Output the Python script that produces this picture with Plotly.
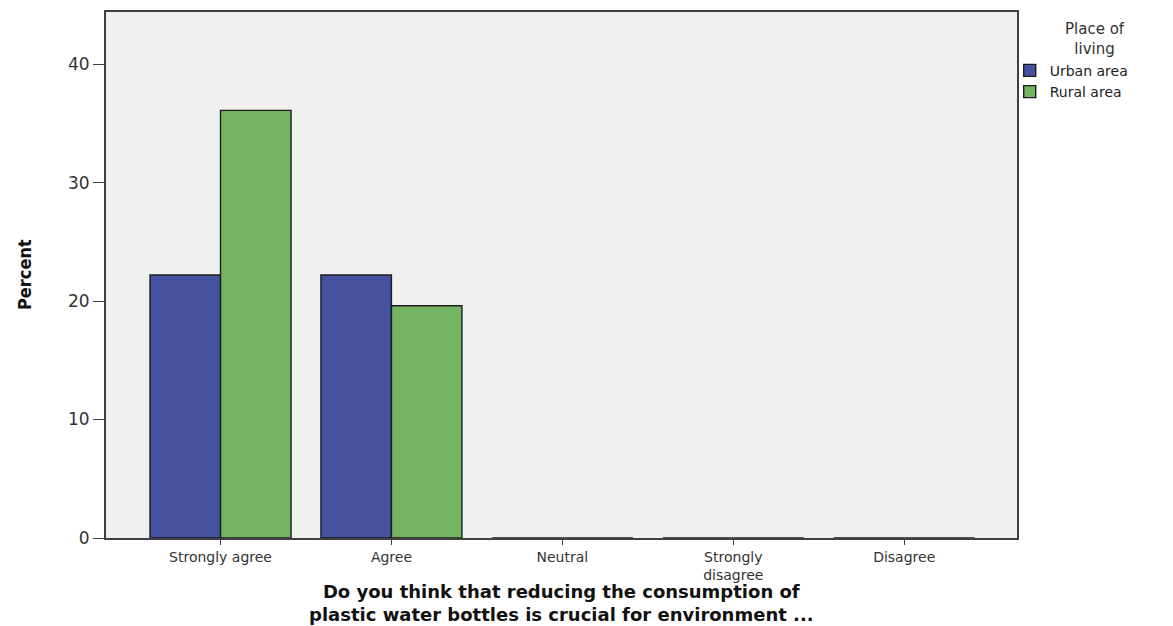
import plotly.graph_objects as go

categories = ["Strongly agree", "Agree", "Neutral", "Strongly<br>disagree", "Disagree"]
urban = [22.2, 22.2, 0, 0, 0]
rural = [36.1, 19.6, 0, 0, 0]
y_ticks = [0, 10, 20, 30, 40]
legend_title = "Place of<br>living"
x_title = "<b>Do you think that reducing the consumption of<br>plastic water bottles is crucial for environment ...</b>"
y_title = "<b>Percent</b>"

FONT = "DejaVu Sans, Verdana, Arial, sans-serif"

fig = go.Figure()
fig.add_trace(go.Bar(name="Urban area", x=categories, y=urban,
                     marker=dict(color="#4552A0", line=dict(color="#1c1c1c", width=1.4))))
fig.add_trace(go.Bar(name="Rural area", x=categories, y=rural,
                     marker=dict(color="#72B462", line=dict(color="#1c1c1c", width=1.4))))

fig.update_layout(
    width=1165, height=618,
    margin=dict(l=98, r=156, t=4, b=88, autoexpand=False),
    paper_bgcolor="white", plot_bgcolor="#F0F0F0",
    barmode="group", bargap=0.175, bargroupgap=0,
    font=dict(family=FONT, color="#222"),
    legend=dict(
        x=0.992, xanchor="left", y=0.9186, yanchor="top",
        font=dict(size=14, family=FONT, color="#222"),
        itemwidth=30, tracegroupgap=0, bgcolor="rgba(0,0,0,0)",
    ),
    xaxis=dict(
        range=[-0.67, 4.66], showgrid=False, automargin=False,
        showline=True, linecolor="#404040", linewidth=1.8, mirror=True,
        ticks="outside", ticklen=5, tickcolor="#404040",
        tickfont=dict(size=14, family=FONT, color="#333"),
    ),
    yaxis=dict(
        range=[0, 44.4], tickvals=y_ticks, showgrid=False, zeroline=False, automargin=False,
        showline=True, linecolor="#404040", linewidth=1.8, mirror=True,
        ticks="outside", ticklen=11, tickcolor="#404040",
        tickfont=dict(size=17, family=FONT, color="#333"),
    ),
    annotations=[
        dict(text=legend_title, xref="paper", yref="paper", x=1.0856, y=0.9496,
             xanchor="center", yanchor="middle", showarrow=False, align="center",
             font=dict(size=15, family=FONT, color="#333")),
        dict(text=x_title, xref="paper", yref="paper", x=0.5, y=-0.1695,
             xanchor="center", yanchor="bottom", showarrow=False, align="center",
             font=dict(size=18, family=FONT, color="#111")),
        dict(text=y_title, xref="paper", yref="paper", x=-0.09, y=0.5,
             xanchor="center", yanchor="middle", showarrow=False, textangle=-90,
             font=dict(size=18, family="Liberation Sans Narrow, DejaVu Sans Condensed, Liberation Sans, Arial, sans-serif",
                       color="#111")),
    ],
)

fig.write_html("out.html")
